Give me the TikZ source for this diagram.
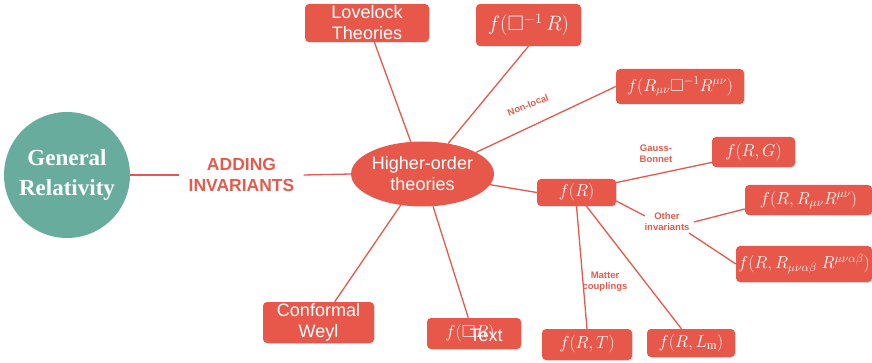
\documentclass[tikz,border=0pt]{standalone}
\usepackage{amssymb}
\usepackage{fontspec}
\setmainfont{Liberation Serif}
\setsansfont{Liberation Sans}
\usetikzlibrary{shapes.geometric,shadows}
\definecolor{boxred}{HTML}{E8584A}
\definecolor{grteal}{HTML}{67AC9D}
\definecolor{labred}{HTML}{E65A4C}
\tikzset{
  redbox/.style={fill=boxred, rounded corners=4pt, text=white, inner sep=0pt, align=center,
    drop shadow={shadow xshift=0.8pt, shadow yshift=-0.8pt, opacity=0.25}},
  sansbox/.style={redbox, font=\sffamily\fontsize{18}{21}\selectfont},
  mathbox/.style={redbox, font=\fontsize{17.5}{20}\selectfont},
  link/.style={draw=boxred, line width=1.3pt},
  smalllab/.style={text=labred, font=\sffamily\bfseries\fontsize{9.5}{11}\selectfont, align=center, inner sep=0pt}
}
\begin{document}
\begin{tikzpicture}[x=1pt,y=-1pt]
\useasboundingbox (0,0) rectangle (872,363);
% main nodes
\node[circle, fill=grteal, minimum size=126pt, inner sep=0pt, text=white,
  font=\bfseries\fontsize{23}{30}\selectfont, align=center] (gr) at (67,175) {General\\Relativity};
\node[text=labred, font=\sffamily\bfseries\fontsize{17.5}{21}\selectfont, align=center,
  inner xsep=9pt, inner ysep=0pt] (add) at (241.5,175) {ADDING\\INVARIANTS};
\node[ellipse, fill=boxred, minimum width=129pt, minimum height=65pt, inner sep=0pt,
  text=white, font=\sffamily\fontsize{18}{21}\selectfont, align=center] (hot) at (422.5,174) {Higher-order\\theories};
% boxes
\node[sansbox, minimum width=124pt, minimum height=38pt] (lov) at (367,23) {Lovelock\\Theories};
\node[mathbox, font=\fontsize{21}{24}\selectfont, minimum width=105pt, minimum height=42pt] (fbi) at (528.5,25) {$f(\square^{-1}\,R)$};
\node[mathbox, minimum width=128pt, minimum height=35pt] (fmn) at (680,86.5) {$f(R_{\mu\nu}\square^{-1}R^{\mu\nu})$};
\node[mathbox, minimum width=79pt, minimum height=27pt] (fR) at (576.5,192.5) {$f(R)$};
\node[mathbox, minimum width=83pt, minimum height=30pt] (fRG) at (753.5,152) {$f(R,G)$};
\node[mathbox, minimum width=127pt, minimum height=30pt] (fRR) at (808.5,200) {$f(R,R_{\mu\nu}R^{\mu\nu})$};
\node[mathbox, minimum width=136pt, minimum height=36pt] (fRiem) at (804,264) {$f(R,R_{\mu\nu\alpha\beta}\;R^{\mu\nu\alpha\beta})$};
\node[mathbox, minimum width=90pt, minimum height=31pt] (fRT) at (587,344.5) {$f(R,T)$};
\node[mathbox, minimum width=88pt, minimum height=28pt] (fRL) at (691,343) {$f(R,L_{\mathrm{m}})$};
\node[sansbox, minimum width=111pt, minimum height=41pt] (conf) at (318.5,322.5) {Conformal\\Weyl};
\node[mathbox, minimum width=94pt, minimum height=31pt] (fbr) at (474,333.5) {\hspace*{-8pt}$f(\square R)$};
\node[text=white, font=\sffamily\fontsize{18}{21}\selectfont, inner sep=0pt] (fbrtext) at (486,335) {Text};
% small labels
\node[smalllab, rotate=22] (nl) at (528,105) {Non-local};
\node[smalllab] (gb) at (656,154) {Gauss-\\Bonnet};
\node[smalllab] (oi) at (667,222) {Other\\invariants};
\node[smalllab] (mc) at (605,282) {Matter\\couplings};
\coordinate (oiA) at (645,216);
\coordinate (oiB) at (694,222);
\coordinate (oiC) at (689,233);
% connectors
\draw[link] (gr.east) -- (add.west);
\draw[link] (add.east) -- (hot.west);
\draw[link] (lov.-69) -- (hot.110);
\draw[link] (fbi.south) -- (hot.50);
\draw[link] (fmn.west) -- (hot.22);
\draw[link] (hot.-9) -- (fR.west);
\draw[link] (conf.52) -- (hot.235);
\draw[link] (fbr.110) -- (hot.288);
\draw[link] (fR.14) -- (fRG.194);
\draw[link] (fR.-12) -- (oiA);
\draw[link] (oiB) -- (fRR.188);
\draw[link] (oiC) -- (fRiem.west);
\draw[link] (fR.south) -- (fRT.north);
\draw[link] (fR.-54) -- (fRL.124);
\end{tikzpicture}
\end{document}
